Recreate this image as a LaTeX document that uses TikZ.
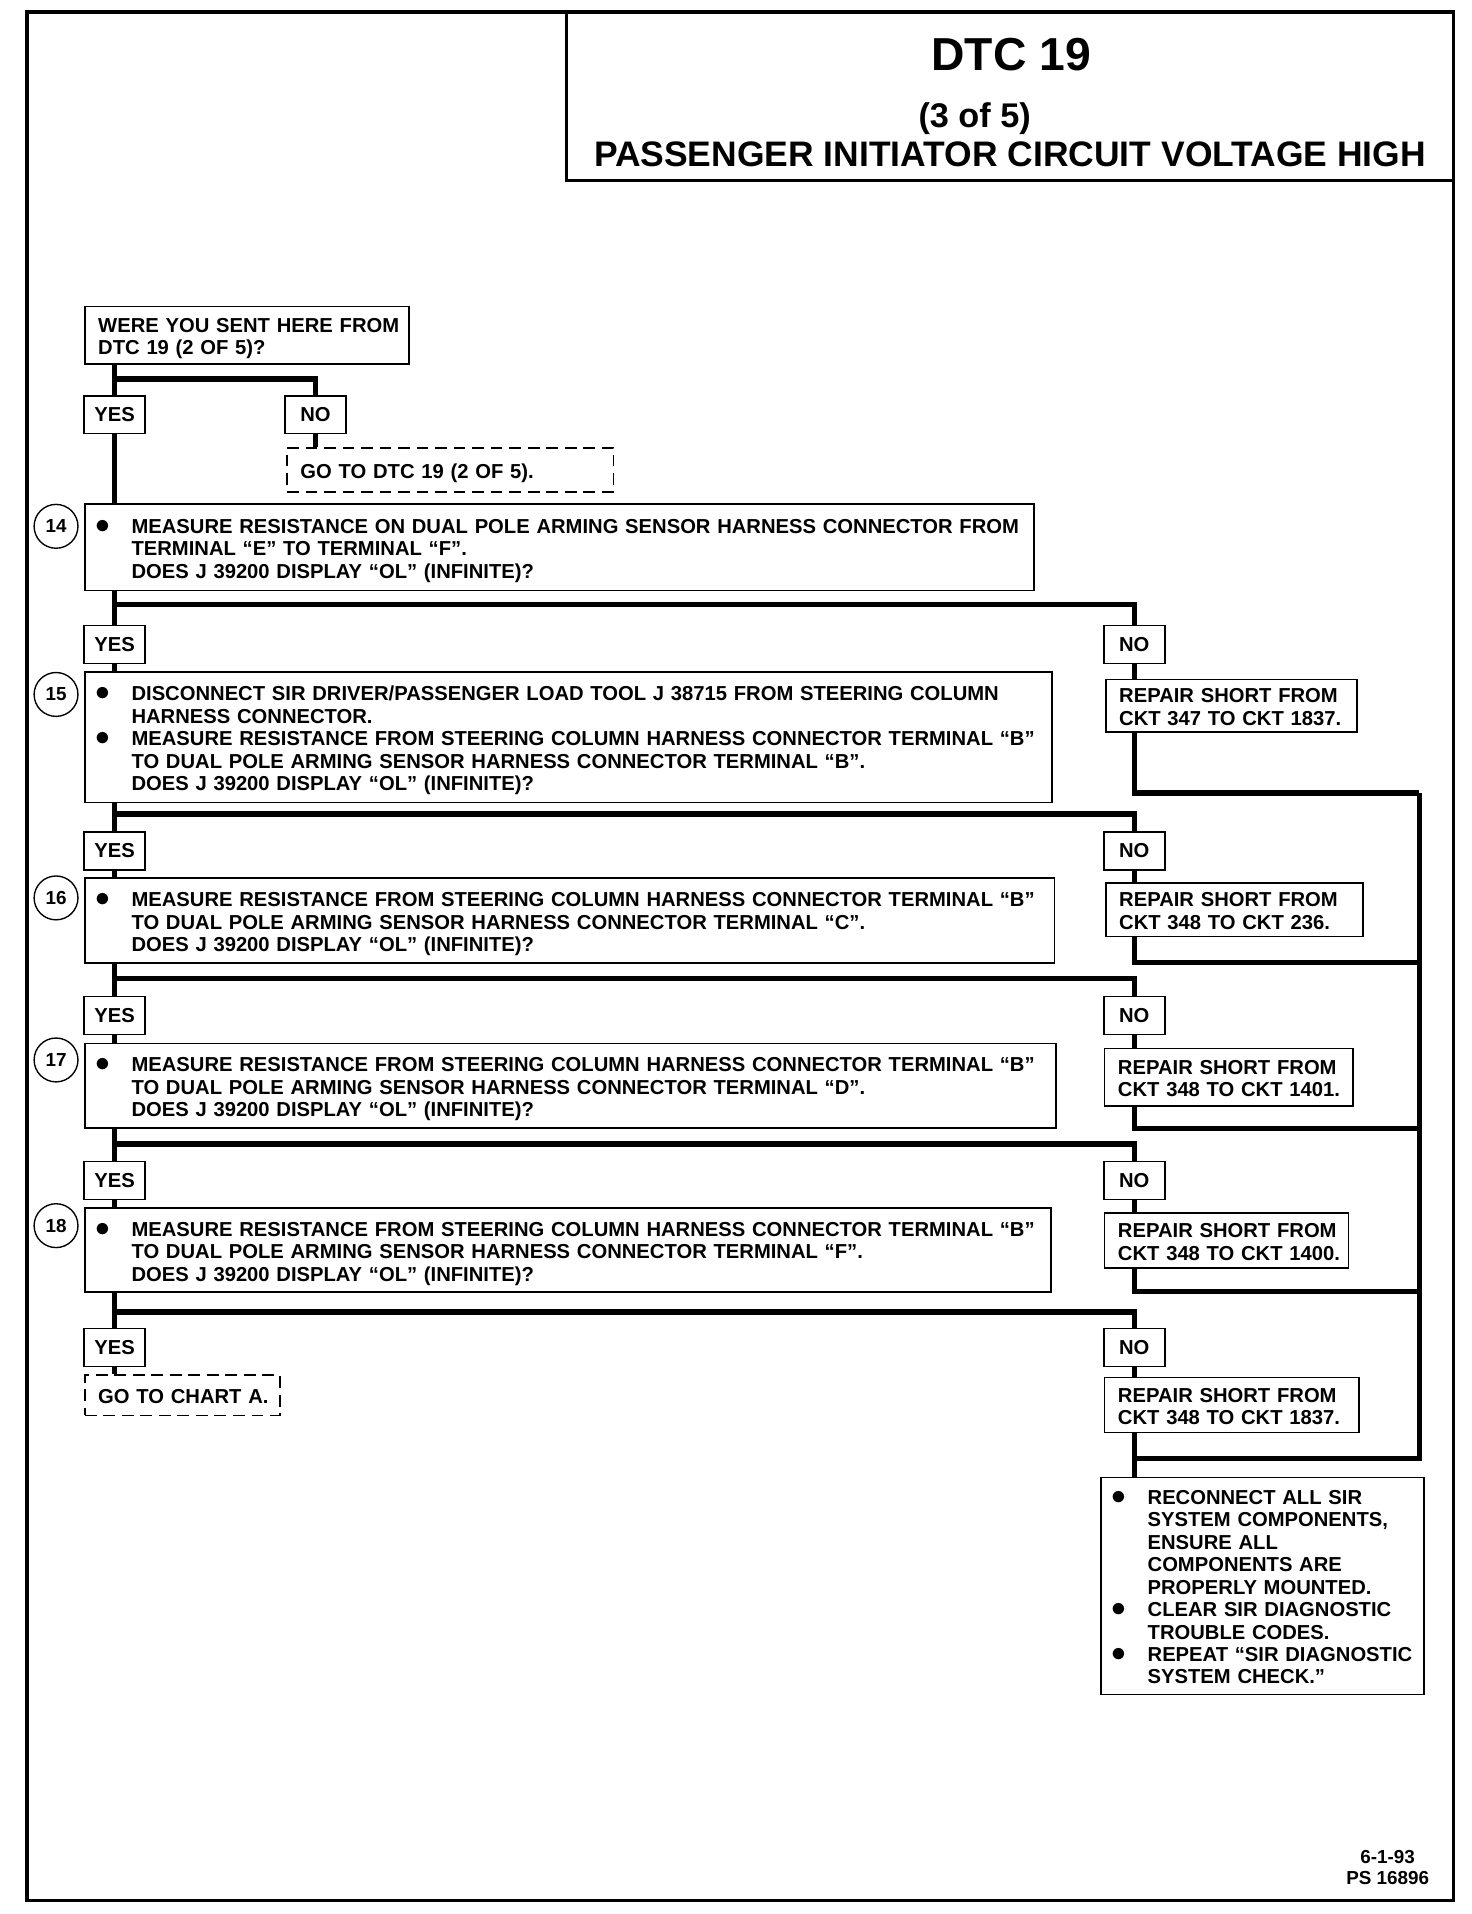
\documentclass[tikz,border=0pt]{standalone}
\usepackage{fontspec}
\setmainfont{Liberation Sans}
\tikzset{
    stepbox/.style={draw, line width=0.9pt, anchor=north west, inner xsep=2.75mm, inner ysep=0pt, align=left},
    gotobox/.style={stepbox, dash pattern=on 2.4mm off 1.4mm},
    answer/.style={draw, line width=0.9pt, minimum width=12.5mm, minimum height=7.75mm, inner sep=0pt},
    stepnum/.style={draw, circle, line width=0.8pt, minimum size=9mm, inner sep=0pt, font=\bfseries\fontsize{11}{12}\selectfont},
    flow/.style={line width=1.1mm}
}
\newcommand{\dotmark}{{\fontsize{16}{16}\selectfont$\bullet$}}
\newcommand{\lines}[1]{\raisebox{-0.8mm}[\height][\depth]{\begin{tabular}{@{}l@{}}#1\end{tabular}}}
\newcommand{\bulletlist}[1]{\raisebox{-0.8mm}[\height][\depth]{\begin{tabular}{@{\hspace{-0.6mm}}l@{\hspace{4.4mm}}l@{}}#1\end{tabular}}}
\begin{document}
\begin{tikzpicture}[x=0.25mm, y=-0.25mm, every node/.style={font=\bfseries\fontsize{11.8}{13.1}\selectfont}]
    \useasboundingbox (0,0) rectangle (1208,1571);

    % Frame and title
    \draw[line width=0.7mm] (22,10) rectangle (1193,1560);
    \draw[line width=0.5mm] (465,10) rectangle (1193,148);
    \node (dtc) at (830,45) {\fontsize{27}{30}\selectfont DTC 19};
    \node (part) at (800,97) {\fontsize{20}{22}\selectfont (3 of 5)};
    \node (head) at (829,127) {\fontsize{20.7}{23}\selectfont PASSENGER INITIATOR CIRCUIT VOLTAGE HIGH};

    % Nodes
    \node[stepbox, text width=61mm, minimum height=11.75mm] (q0) at (69,251)
        {\lines{WERE YOU SENT HERE FROM\\DTC 19 (2 OF 5)?}};
    \node[answer] (y0) at (94,340.5) {YES};
    \node[answer] (n0) at (259,340.5) {NO};
    \node[gotobox, text width=61.5mm, minimum height=9mm] (g0) at (235,367) {\lines{GO TO DTC 19 (2 OF 5).}};

    \node[stepbox, text width=189.25mm, minimum height=17.75mm] (q14) at (69,413)
        {\bulletlist{\dotmark & MEASURE RESISTANCE ON DUAL POLE ARMING SENSOR HARNESS CONNECTOR FROM\\
        & TERMINAL “E” TO TERMINAL “F”.\\
        & DOES J 39200 DISPLAY “OL” (INFINITE)?}};
    \node[stepnum] (c14) at (46,432) {14};
    \node[answer] (y15) at (94,529) {YES};
    \node[answer] (n15) at (931,529) {NO};

    \node[stepbox, text width=193mm, minimum height=26.75mm] (q15) at (69,551)
        {\bulletlist{\dotmark & DISCONNECT SIR DRIVER/PASSENGER LOAD TOOL J 38715 FROM STEERING COLUMN\\
        & HARNESS CONNECTOR.\\
        \dotmark & MEASURE RESISTANCE FROM STEERING COLUMN HARNESS CONNECTOR TERMINAL “B”\\
        & TO DUAL POLE ARMING SENSOR HARNESS CONNECTOR TERMINAL “B”.\\
        & DOES J 39200 DISPLAY “OL” (INFINITE)?}};
    \node[stepnum] (c15) at (46,570) {15};
    \node[stepbox, text width=46mm, minimum height=10.75mm] (r15) at (907,557)
        {\lines{REPAIR SHORT FROM\\CKT 347 TO CKT 1837.}};
    \node[answer] (y16) at (94,698.5) {YES};
    \node[answer] (n16) at (931,698.5) {NO};

    \node[stepbox, text width=193.5mm, minimum height=17.5mm] (q16) at (69,720)
        {\bulletlist{\dotmark & MEASURE RESISTANCE FROM STEERING COLUMN HARNESS CONNECTOR TERMINAL “B”\\
        & TO DUAL POLE ARMING SENSOR HARNESS CONNECTOR TERMINAL “C”.\\
        & DOES J 39200 DISPLAY “OL” (INFINITE)?}};
    \node[stepnum] (c16) at (46,737) {16};
    \node[stepbox, text width=47.25mm, minimum height=11mm] (r16) at (907,724)
        {\lines{REPAIR SHORT FROM\\CKT 348 TO CKT 236.}};
    \node[answer] (y17) at (94,833.5) {YES};
    \node[answer] (n17) at (931,833.5) {NO};

    \node[stepbox, text width=193.75mm, minimum height=17.25mm] (q17) at (69,856)
        {\bulletlist{\dotmark & MEASURE RESISTANCE FROM STEERING COLUMN HARNESS CONNECTOR TERMINAL “B”\\
        & TO DUAL POLE ARMING SENSOR HARNESS CONNECTOR TERMINAL “D”.\\
        & DOES J 39200 DISPLAY “OL” (INFINITE)?}};
    \node[stepnum] (c17) at (46,870) {17};
    \node[stepbox, text width=45.5mm, minimum height=11.75mm] (r17) at (906,860)
        {\lines{REPAIR SHORT FROM\\CKT 348 TO CKT 1401.}};
    \node[answer] (y18) at (94,969) {YES};
    \node[answer] (n18) at (931,969) {NO};

    \node[stepbox, text width=192.75mm, minimum height=17.25mm] (q18) at (69,991)
        {\bulletlist{\dotmark & MEASURE RESISTANCE FROM STEERING COLUMN HARNESS CONNECTOR TERMINAL “B”\\
        & TO DUAL POLE ARMING SENSOR HARNESS CONNECTOR TERMINAL “F”.\\
        & DOES J 39200 DISPLAY “OL” (INFINITE)?}};
    \node[stepnum] (c18) at (46,1006) {18};
    \node[stepbox, text width=44.5mm, minimum height=11.25mm] (r18) at (906,995)
        {\lines{REPAIR SHORT FROM\\CKT 348 TO CKT 1400.}};
    \node[answer] (y19) at (94,1106) {YES};
    \node[answer] (n19) at (931,1106) {NO};

    \node[gotobox, text width=34.5mm, minimum height=8.25mm] (g19) at (69,1128) {\lines{GO TO CHART A.}};
    \node[stepbox, text width=46.75mm, minimum height=11.25mm] (r19) at (906,1130)
        {\lines{REPAIR SHORT FROM\\CKT 348 TO CKT 1837.}};
    \node[stepbox, text width=60.75mm, minimum height=44.5mm] (fin) at (903,1212)
        {\bulletlist{\dotmark & RECONNECT ALL SIR\\
        & SYSTEM COMPONENTS,\\
        & ENSURE ALL\\
        & COMPONENTS ARE\\
        & PROPERLY MOUNTED.\\
        \dotmark & CLEAR SIR DIAGNOSTIC\\
        & TROUBLE CODES.\\
        \dotmark & REPEAT “SIR DIAGNOSTIC\\
        & SYSTEM CHECK.”}};

    \node[align=center, font=\bfseries\fontsize{11}{12.5}\selectfont] (date) at (1139,1533) {6-1-93\\PS 16896};

    % Branch points
    \coordinate (b0) at (94,311);
    \coordinate (b14) at (94,496);
    \coordinate (b15) at (94,668);
    \coordinate (b16) at (94,803);
    \coordinate (b17) at (94,939);
    \coordinate (b18) at (94,1077);
    \coordinate (k15) at (1165,651);
    \coordinate (k16) at (1165,790);
    \coordinate (k17) at (1165,926);
    \coordinate (k18) at (1165,1060);
    \coordinate (k19) at (1165,1197);

    % Edges
    \draw[flow] (q0.south -| b0) -- (y0.north);
    \draw[flow] (b0) -| (n0.north);
    \draw[flow] (n0.south) -- (n0.south |- g0.north);
    \draw[flow] (y0.south) -- (y0.south |- q14.north);

    \draw[flow] (q14.south -| b14) -- (y15.north);
    \draw[flow] (b14) -| (n15.north);
    \draw[flow] (y15.south) -- (y15.south |- q15.north);
    \draw[flow] (n15.south) -- (n15.south |- r15.north);

    \draw[flow] (q15.south -| b15) -- (y16.north);
    \draw[flow] (b15) -| (n16.north);
    \draw[flow] (y16.south) -- (y16.south |- q16.north);
    \draw[flow] (n16.south) -- (n16.south |- r16.north);

    \draw[flow] (q16.south -| b16) -- (y17.north);
    \draw[flow] (b16) -| (n17.north);
    \draw[flow] (y17.south) -- (y17.south |- q17.north);
    \draw[flow] (n17.south) -- (n17.south |- r17.north);

    \draw[flow] (q17.south -| b17) -- (y18.north);
    \draw[flow] (b17) -| (n18.north);
    \draw[flow] (y18.south) -- (y18.south |- q18.north);
    \draw[flow] (n18.south) -- (n18.south |- r18.north);

    \draw[flow] (q18.south -| b18) -- (y19.north);
    \draw[flow] (b18) -| (n19.north);
    \draw[flow] (y19.south) -- (y19.south |- g19.north);
    \draw[flow] (n19.south) -- (n19.south |- r19.north);

    % Repairs back to the last step
    \draw[flow] (n15.south |- r15.south) |- (k15);
    \draw[flow] (n16.south |- r16.south) |- (k16);
    \draw[flow] (n17.south |- r17.south) |- (k17);
    \draw[flow] (n18.south |- r18.south) |- (k18);
    \draw[flow] (k15) -- (k19) -- (k19 -| n19);
    \draw[flow] (n19.south |- r19.south) -- (n19.south |- fin.north);
\end{tikzpicture}
\end{document}
